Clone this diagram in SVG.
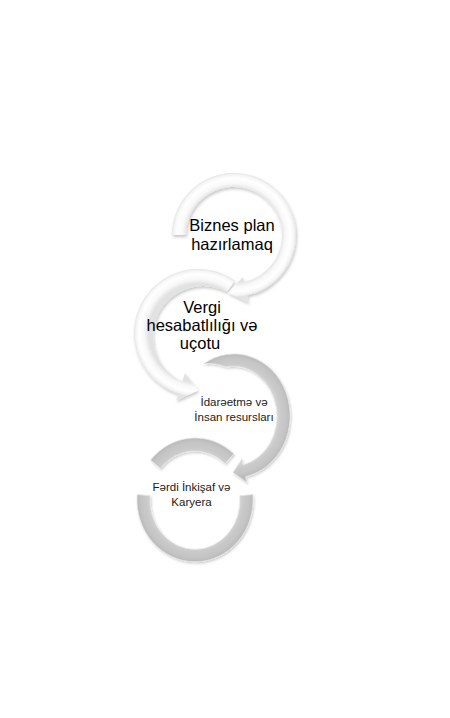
<svg xmlns="http://www.w3.org/2000/svg" width="450" height="718" viewBox="0 0 450 718">
<style>
  .big { font-family: "Liberation Sans", Arial, "DejaVu Sans", sans-serif; font-size: 16.5px; fill: #000; text-anchor: middle; }
  .small { font-family: "Liberation Sans", Arial, "DejaVu Sans", sans-serif; font-size: 11.5px; fill: #1a1a1a; text-anchor: middle; }
  .light { filter: url(#sh); }
  .grey { filter: url(#sh2); stroke: #e6e6e6; stroke-width: 0.7; }
</style>
<defs>
  <filter id="sh" x="-20%" y="-20%" width="140%" height="140%">
    <feDropShadow dx="1" dy="2" stdDeviation="1.8" flood-color="#000" flood-opacity="0.22"/>
  </filter>
  <filter id="sh2" x="-20%" y="-20%" width="140%" height="140%">
    <feDropShadow dx="1" dy="1.5" stdDeviation="1.2" flood-color="#000" flood-opacity="0.2"/>
  </filter>
  <radialGradient id="g1" gradientUnits="userSpaceOnUse" cx="234" cy="235" r="62">
    <stop offset="0.76" stop-color="#e2e2e2"/>
    <stop offset="0.83" stop-color="#f8f8f8"/>
    <stop offset="0.91" stop-color="#ffffff"/>
    <stop offset="0.97" stop-color="#f5f5f5"/>
    <stop offset="1" stop-color="#e4e4e4"/>
  </radialGradient>
  <radialGradient id="g2" gradientUnits="userSpaceOnUse" cx="198" cy="333" r="64">
    <stop offset="0.77" stop-color="#e2e2e2"/>
    <stop offset="0.84" stop-color="#f8f8f8"/>
    <stop offset="0.92" stop-color="#ffffff"/>
    <stop offset="0.97" stop-color="#f5f5f5"/>
    <stop offset="1" stop-color="#e4e4e4"/>
  </radialGradient>
  <radialGradient id="g3" gradientUnits="userSpaceOnUse" cx="0" cy="0" r="1" gradientTransform="translate(234 416) scale(56 62)">
    <stop offset="0.77" stop-color="#d6d6d6"/>
    <stop offset="0.84" stop-color="#cacaca"/>
    <stop offset="0.93" stop-color="#c5c5c5"/>
    <stop offset="1" stop-color="#bbbbbb"/>
  </radialGradient>
  <radialGradient id="g4" gradientUnits="userSpaceOnUse" cx="0" cy="0" r="1" gradientTransform="translate(195 500) scale(58 62)">
    <stop offset="0.76" stop-color="#d4d4d4"/>
    <stop offset="0.84" stop-color="#c9c9c9"/>
    <stop offset="0.93" stop-color="#c4c4c4"/>
    <stop offset="1" stop-color="#b9b9b9"/>
  </radialGradient>
</defs>

<g id="node4">
  <path class="grey" fill="url(#g4)" d="M150.6,460.1 A58 62 0 0 1 233.8,453.9 L225.1,463.6 A45 49 0 0 0 160.5,468.5 Z"/>
  <path class="grey" fill="url(#g4)" d="M252.8,494.6 A58 62 0 1 1 137.2,494.6 L150.2,495.7 A45 49 0 1 0 239.8,495.7 Z"/>
  <text class="small" x="191.5" y="491">Fərdi İnkişaf və</text>
  <text class="small" x="191.5" y="506">Karyera</text>
</g>

<g id="node3">
  <path class="grey" fill="url(#g3)" d="M203.5,364 A56 62 0 1 1 245.6,476.6 L246.9,482.5 L233,472.5 L241.9,459 L243.1,464.9 A44 50 0 0 0 226.4,366.8 Q212,362 203.5,364 Z"/>
  <text class="small" x="234" y="406">İdarəetmə və</text>
  <text class="small" x="234" y="421">İnsan resursları</text>
</g>

<g id="node2">
  <path class="light" fill="url(#g2)" d="M234.7,280.6 A64 64 0 1 0 178.2,393.9 L176.1,400.5 L198,390.5 L185,373 L182.2,381.5 A50 50 0 1 1 226.7,292.0 Z"/>
  <text class="big" x="202" y="313">Vergi</text>
  <text class="big" x="202" y="331">hesabatlılığı və</text>
  <text class="big" x="200" y="349">uçotu</text>
</g>

<g id="node1">
  <path class="light" fill="url(#g1)" d="M172,235 A62 62 0 1 1 246.9,295.6 L248.3,302.5 L227.9,292.7 L242.9,277.1 L244.0,281.9 A48 48 0 1 0 186,235 Z"/>
  <text class="big" x="232" y="231">Biznes plan</text>
  <text class="big" x="232" y="249.5">hazırlamaq</text>
</g>
</svg>
